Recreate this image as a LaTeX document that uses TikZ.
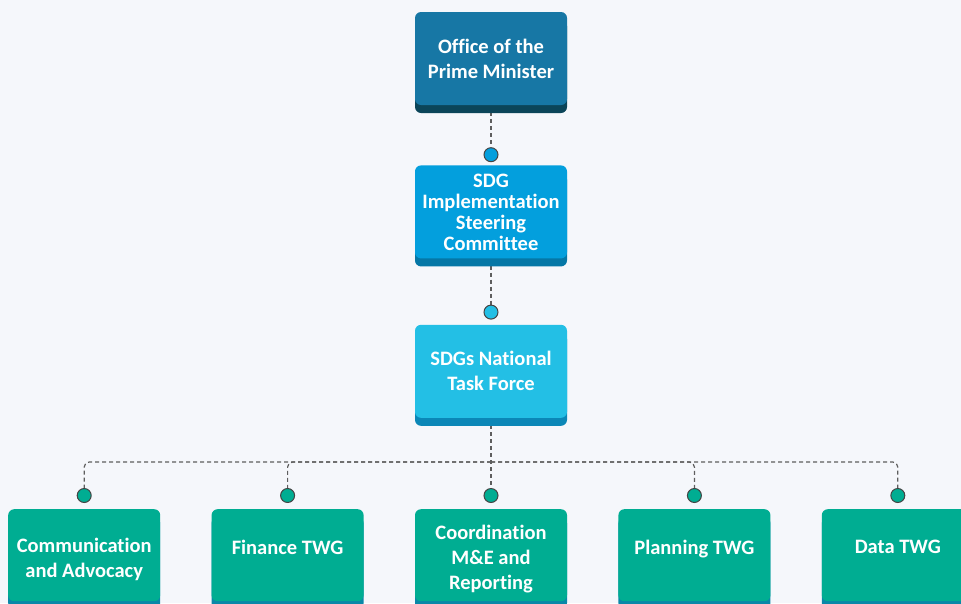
\documentclass[tikz,border=0pt]{standalone}
\usepackage{fontspec}
\setmainfont{Carlito}[Ligatures=NoCommon]
\usetikzlibrary{positioning, shadows, backgrounds}

\definecolor{pageback}{HTML}{F5F7FB}
\definecolor{pmblue}{HTML}{1777A5}
\definecolor{pmshade}{HTML}{0B4559}
\definecolor{sicblue}{HTML}{039FDD}
\definecolor{sicshade}{HTML}{0577A6}
\definecolor{tfblue}{HTML}{23BFE5}
\definecolor{tfshade}{HTML}{0B87B7}
\definecolor{twggreen}{HTML}{00AD92}
\definecolor{twgshade}{HTML}{0A88A8}
\definecolor{linkgray}{HTML}{5E5E5E}
\definecolor{dotrim}{HTML}{444444}

\newcommand{\padtop}{\rule{0pt}{23pt}}

\begin{document}
\begin{tikzpicture}[
    x=1pt, y=-1pt,
    tier/.style={rectangle, rounded corners=6pt, minimum width=152pt, minimum height=93pt, align=center, text=white, inner sep=2pt, font=\bfseries\fontsize{20.5}{25}\selectfont},
    pmbox/.style={tier, fill=pmblue, general shadow={fill=pmshade, shadow yshift=-8pt}},
    sicbox/.style={tier, fill=sicblue, general shadow={fill=sicshade, shadow yshift=-8pt}, font=\bfseries\fontsize{20.5}{21}\selectfont},
    tfbox/.style={tier, fill=tfblue, general shadow={fill=tfshade, shadow yshift=-8pt}},
    twgbox/.style={tier, minimum height=92pt, fill=twggreen, general shadow={fill=twgshade, shadow yshift=-8pt}},
    oneline/.style={text depth=16pt},
    dot/.style={circle, draw=dotrim, line width=1pt, minimum size=14pt, inner sep=0pt},
    link/.style={draw=linkgray, dash pattern=on 4pt off 3pt, line width=1.2pt, rounded corners=5pt}
]
\useasboundingbox (0,0) rectangle (961,603);

% Top of the chain
\node (pm) [pmbox] at (491,58.5) {Office of the\\Prime Minister};
\node (sic) [sicbox, below=60pt of pm] {SDG\\Implementation\\Steering\\Committee};
\node (tf) [tfbox, below=66pt of sic] {SDGs National\\Task Force};

\node (dsic) [dot, fill=sicblue, below=42pt of pm] {};
\node (dtf) [dot, fill=tfblue, below=46pt of sic] {};

% Working groups
\node (coord) [twgbox, below=91pt of tf] {\padtop Coordination\\M\&E and\\Reporting};
\node (fin) [twgbox, oneline, left=51pt of coord] {Finance TWG};
\node (comm) [twgbox, left=51pt of fin] {\padtop Communication\\and Advocacy};
\node (plan) [twgbox, oneline, right=51pt of coord] {Planning TWG};
\node (data) [twgbox, oneline, right=51pt of plan] {Data TWG};

\node (dcomm) [dot, fill=twggreen, above=6pt of comm] {};
\node (dfin) [dot, fill=twggreen, above=6pt of fin] {};
\node (dcoord) [dot, fill=twggreen, above=6pt of coord] {};
\node (dplan) [dot, fill=twggreen, above=6pt of plan] {};
\node (ddata) [dot, fill=twggreen, above=6pt of data] {};

\coordinate [below=44pt of tf.south] (bus);

% Dashed links behind the boxes
\begin{scope}[on background layer]
\fill[pageback] (0,0) rectangle (961,603);
\draw[link] (pm.south) -- (dsic);
\draw[link] (sic.south) -- (dtf);
\draw[link] (tf.south) -- (dcoord);
\foreach \d in {dcomm, dfin, dplan, ddata}
    \draw[link] (bus) -| (\d);
\end{scope}

\end{tikzpicture}
\end{document}
